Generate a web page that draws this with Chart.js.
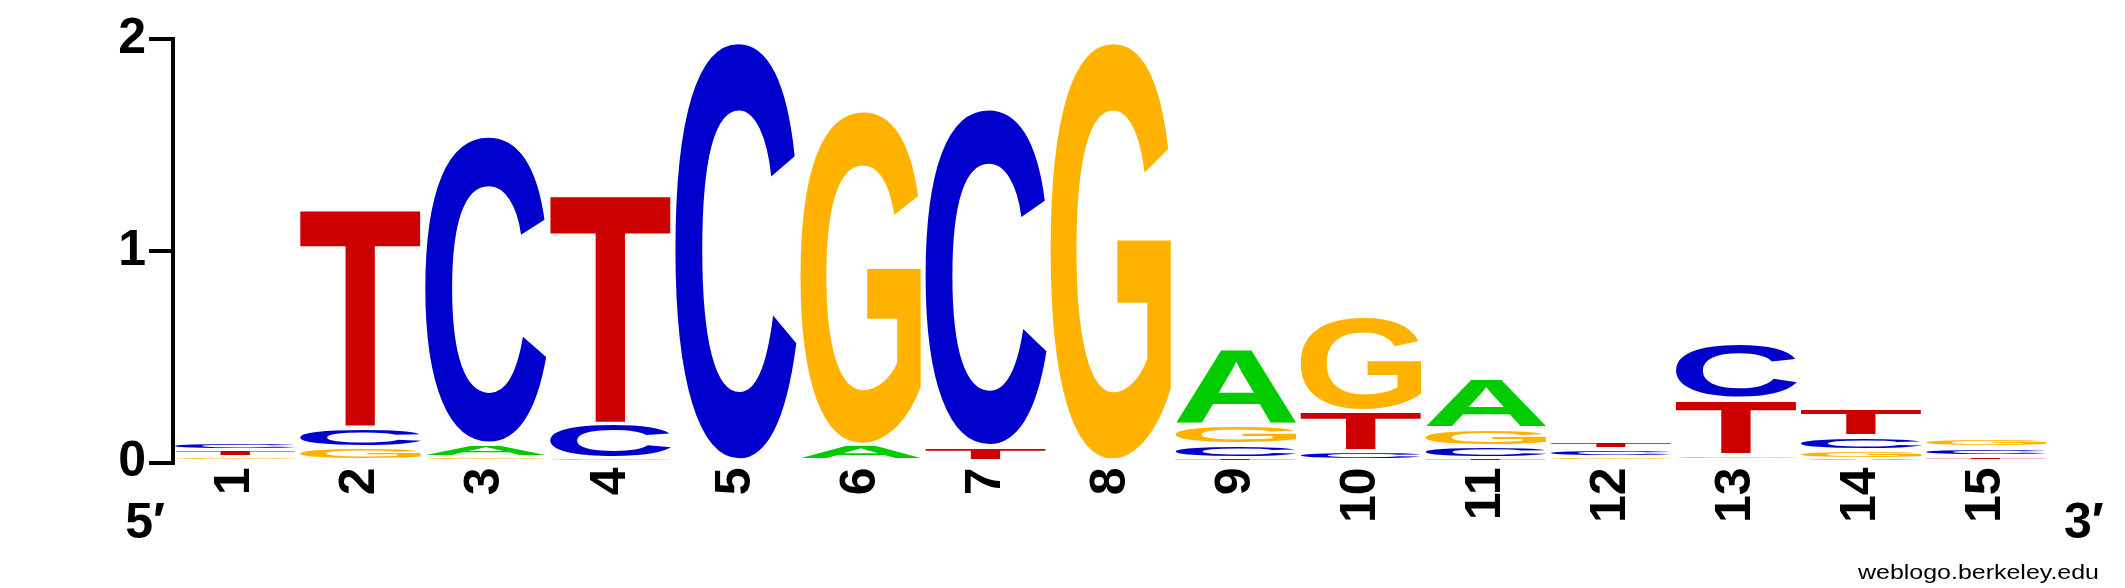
<!DOCTYPE html>
<html>
<head>
<meta charset="utf-8">
<script src="https://cdn.jsdelivr.net/npm/chart.js@4.4.1/dist/chart.umd.min.js"></script>
<style>
  html, body { margin: 0; padding: 0; background: #fff; }
  #wrap { width: 2125px; height: 588px; position: relative; }
</style>
</head>
<body>
<div id="wrap"><canvas id="logo"></canvas></div>
<script>
// positions along the motif and the four bases
const positions = ['1', '2', '3', '4', '5', '6', '7', '8', '9', '10', '11', '12', '13', '14', '15']
const bases = ['A', 'C', 'G', 'T']
// letter heights in bits
const aHeights = [0, 0, 0.064, 0, 0, 0.083, 0, 0, 0.359, 0, 0.24, 0, 0, 0.017, 0]
const cHeights = [0.04, 0.095, 1.458, 0.165, 1.99, 0, 1.599, 0, 0.063, 0.054, 0.055, 0.035, 0.263, 0.063, 0.039]
const gHeights = [0.025, 0.07, 0.025, 0.018, 0, 1.583, 0, 1.99, 0.094, 0.446, 0.083, 0.028, 0.037, 0.043, 0.045]
const tHeights = [0.035, 1.04, 0, 1.09, 0, 0, 0.077, 0, 0.021, 0.19, 0.021, 0.036, 0.262, 0.136, 0.032]
const yTicks = [0, 1, 2]

const baseColors = {A: '#00CC00', C: '#0000CC', G: '#FFB300', T: '#CC0000'}
const heightsByBase = [aHeights, cHeights, gHeights, tHeights]
const FONT = '"Liberation Sans", Arial, Helvetica, sans-serif'

// each column is stacked smallest letter at the bottom, so build one dataset per rank
function buildDatasets(){
    const ranks = [0, 1, 2, 3].map(r => ({label: 'rank ' + r, data: [], letters: [],
        backgroundColor: 'rgba(0,0,0,0)', borderWidth: 0}))
    positions.forEach((p, i) => {
        const stack = bases.map((b, k) => ({b: b, v: heightsByBase[k][i]}))
            .filter(s => s.v > 0)
            .sort((s1, s2) => s1.v - s2.v)
        ranks.forEach((ds, r) => {
            ds.data.push(stack[r] ? stack[r].v : 0)
            ds.letters.push(stack[r] ? stack[r].b : null)
        })
    })
    return ranks
}

// draws a stretched glyph inside every bar box
const letterPlugin = {
    id: 'letters',
    afterDatasetsDraw(chart){
        const ctx = chart.ctx
        chart.data.datasets.forEach((ds, di) => {
            const meta = chart.getDatasetMeta(di)
            meta.data.forEach((bar, i) => {
                const letter = ds.letters[i]
                if (!letter) return
                const p = bar.getProps(['x', 'y', 'base', 'width'], true)
                const boxH = p.base - p.y
                if (boxH <= 0) return
                let top = p.y + 2
                let bottom = p.base - 2
                if (bottom - top < 1) { const mid = (p.y + p.base) / 2; top = mid - 0.6; bottom = mid + 0.6 }
                ctx.save()
                ctx.font = 'bold 200px ' + FONT
                ctx.textAlign = 'left'
                ctx.textBaseline = 'alphabetic'
                const m = ctx.measureText(letter)
                const inkW = m.actualBoundingBoxLeft + m.actualBoundingBoxRight
                const inkH = m.actualBoundingBoxAscent + m.actualBoundingBoxDescent
                ctx.translate(p.x - p.width / 2, top)
                ctx.scale(p.width / inkW, (bottom - top) / inkH)
                ctx.fillStyle = baseColors[letter]
                ctx.fillText(letter, m.actualBoundingBoxLeft, m.actualBoundingBoxAscent)
                ctx.restore()
            })
        })
    },
    afterDraw(chart){
        const ctx = chart.ctx
        const area = chart.chartArea
        ctx.save()
        ctx.fillStyle = '#000'
        ctx.font = 'bold 50px ' + FONT
        ctx.textBaseline = 'alphabetic'
        ctx.textAlign = 'right'
        ctx.fillText('5\u2032', area.left - 8, area.bottom + 75.5)
        ctx.textAlign = 'left'
        ctx.fillText('3\u2032', area.right + 15, area.bottom + 75.5)
        // fine print, stretched a little like the original
        ctx.font = '20px ' + FONT
        const txt = 'weblogo.berkeley.edu'
        const w = ctx.measureText(txt).width
        ctx.translate(2099, area.bottom + 116.5)
        ctx.scale(241 / w, 1)
        ctx.textAlign = 'right'
        ctx.fillText(txt, 0, 0)
        ctx.restore()
    }
}

function createChart(){
    const ctx = document.querySelector('#logo')
    new Chart(ctx, {
        type: 'bar',
        data: {labels: positions, datasets: buildDatasets()},
        options: {
            responsive: true,
            maintainAspectRatio: false,
            devicePixelRatio: 1,
            animation: false,
            events: [],
            layout: {padding: {top: 39, right: 76, bottom: 0, left: 0}},
            datasets: {bar: {categoryPercentage: 1, barPercentage: 0.968}},
            plugins: {legend: {display: false}, tooltip: {enabled: false}},
            scales: {
                x: {
                    stacked: true,
                    offset: true,
                    grid: {display: false, drawTicks: false},
                    border: {display: false},
                    ticks: {
                        minRotation: 90, maxRotation: 90, autoSkip: false, padding: 5,
                        color: '#000', font: {family: FONT, size: 50, weight: 'bold'}
                    },
                    afterFit(scale){ scale.height = 125.5 }
                },
                y: {
                    stacked: true,
                    min: yTicks[0],
                    max: yTicks[yTicks.length - 1],
                    grid: {drawOnChartArea: false, drawTicks: true, tickLength: 24, lineWidth: 4, color: '#000'},
                    border: {display: true, width: 4, color: '#000'},
                    ticks: {
                        stepSize: 1, padding: 3, color: '#000',
                        font: {family: FONT, size: 50, weight: 'bold'},
                        callback: v => yTicks.includes(v) ? String(v) : ''
                    },
                    afterFit(scale){ scale.width = 173 }
                }
            }
        },
        plugins: [letterPlugin]
    })
}

createChart()
</script>
</body>
</html>
